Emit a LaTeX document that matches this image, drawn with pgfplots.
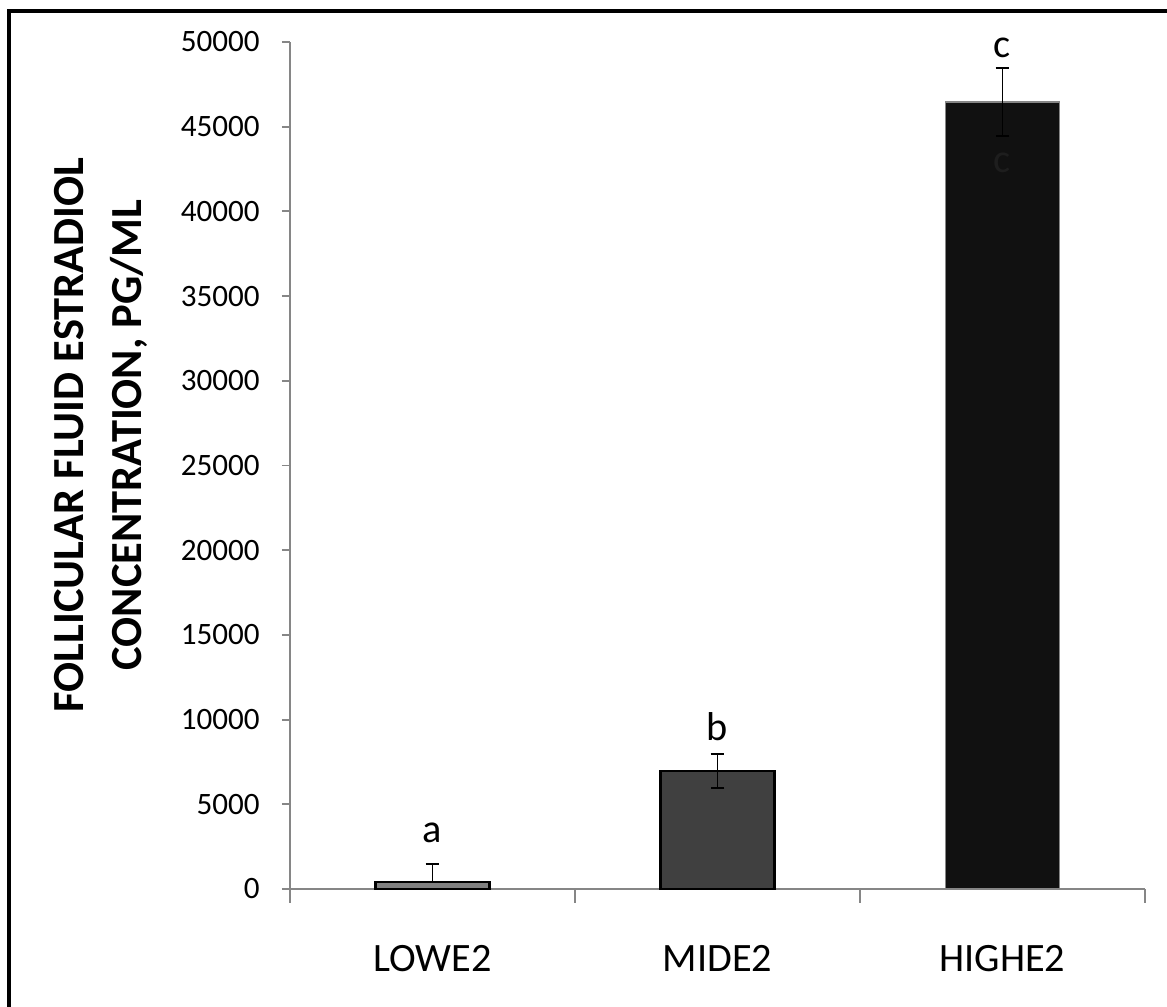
\documentclass[border=0pt]{standalone}
\usepackage{fontspec}
\setmainfont{Carlito}
\usepackage{pgfplots}
\pgfplotsset{compat=1.18}
\definecolor{axgray}{HTML}{868686}
\definecolor{lowc}{HTML}{808080}
\definecolor{midc}{HTML}{404040}
\definecolor{highc}{HTML}{111111}
\definecolor{inc}{HTML}{1e1e1e}
\begin{document}
\begin{tikzpicture}[x=1pt,y=1pt]
\useasboundingbox (0,0) rectangle (420.12,362.16);
\draw[line width=1.44pt] (3.24,-10) -- (3.24,358.2) -- (430,358.2);
\begin{axis}[
  at={(104.4pt,42.12pt)}, anchor=south west,
  scale only axis, width=307.8pt, height=304.92pt,
  xmin=-0.5, xmax=2.5, ymin=0, ymax=50000,
  axis lines*=left,
  axis line style={axgray, line width=0.7pt},
  clip=false,
  ytick={0,5000,...,50000},
  scaled y ticks=false,
  /pgf/number format/1000 sep={},
  /pgf/number format/assume math mode=true,
  xtick={0,1,2}, xticklabels={LOWE2,MIDE2,HIGHE2},
  minor xtick={-0.5,0.5,1.5,2.5},
  tick align=outside,
  major tick length=2.9pt, minor tick length=5pt,
  tick style={axgray, line width=0.7pt},
  major x tick style={draw=none},
  yticklabel style={font=\fontsize{11.2}{13}\selectfont, text=black, xshift=-4.5pt},
  xticklabel style={font=\fontsize{14.5}{16}\selectfont, text=black, yshift=-14pt},
  ylabel={FOLLICULAR FLUID ESTRADIOL\\CONCENTRATION, PG/ML},
  ylabel style={at={(axis description cs:-0.2209,0.536)}, anchor=center, align=center, font=\fontsize{16}{21}\selectfont\bfseries},
]
\addplot[ybar, bar width=41pt, bar shift=0pt, fill=lowc, draw=black, line width=0.8pt,
  error bars/.cd, y dir=plus, y explicit,
  error bar style={black, line width=0.7pt},
  error mark options={rotate=90, black, mark size=2.5pt, line width=0.7pt}]
  coordinates {(0,413) +- (0,1060)};
\addplot[ybar, bar width=41pt, bar shift=0pt, fill=midc, draw=black, line width=0.8pt,
  error bars/.cd, y dir=both, y explicit,
  error bar style={black, line width=0.7pt},
  error mark options={rotate=90, black, mark size=2.5pt, line width=0.7pt}]
  coordinates {(1,6966) +- (0,1000)};
\addplot[ybar, bar width=41pt, bar shift=0pt, fill=highc, draw=axgray, line width=0.5pt,
  error bars/.cd, y dir=both, y explicit,
  error bar style={black, line width=0.7pt},
  error mark options={rotate=90, black, mark size=2.5pt, line width=0.7pt}]
  coordinates {(2,46450) +- (0,2010)};
\node[font=\fontsize{14.5}{16}\selectfont] at (axis cs:0,3306) {a};
\node[font=\fontsize{14.5}{16}\selectfont] at (axis cs:1,9563) {b};
\node[font=\fontsize{14.5}{16}\selectfont] at (axis cs:2,49646) {c};
\node[font=\fontsize{14.5}{16}\selectfont, text=inc] at (axis cs:2,42857) {c};
\end{axis}
\end{tikzpicture}
\end{document}
